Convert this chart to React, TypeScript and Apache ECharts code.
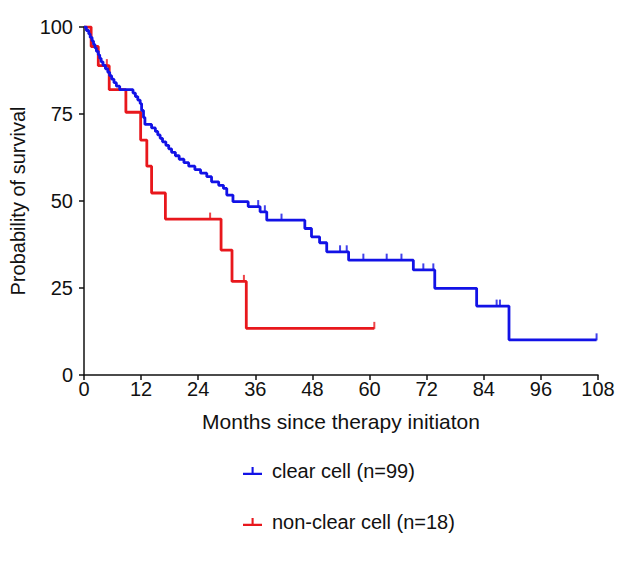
import React, { useEffect, useRef } from "react";
import * as echarts from "echarts";

// Kaplan–Meier step points: [month, survival %] (survival after event)
const clearCellSteps: [number, number][] = [
  [0, 100], [0.5, 99], [1.0, 98], [1.3, 97], [1.7, 96], [2.0, 95], [2.3, 94],
  [2.6, 93], [3.0, 92], [3.3, 91], [3.6, 90], [4.0, 89], [4.5, 88], [5.0, 87],
  [5.4, 86], [5.8, 85], [6.3, 84], [6.8, 83], [7.5, 82], [10.3, 81], [10.8, 80],
  [11.3, 79], [11.8, 78], [12.1, 76], [12.5, 74], [12.8, 72], [14.2, 71],
  [15.0, 70], [15.5, 69], [16.0, 68], [16.5, 67], [17.2, 66], [17.8, 65],
  [18.4, 64], [19.2, 63], [20.0, 62], [21.0, 61], [22.0, 60], [23.3, 59],
  [24.5, 58], [25.8, 57], [26.8, 55.5], [28.3, 54.5], [29.3, 53.6], [30.0, 51.7],
  [31.3, 49.8], [34.5, 48.4], [37.0, 46.9], [38.4, 44.5], [46.4, 42.1],
  [47.8, 39.7], [49.5, 38], [51.0, 35.4], [55.6, 33], [69.2, 30.2], [73.7, 24.9],
  [82.5, 19.8], [89.3, 10.1], [107.7, 10.1],
];
const clearCellCensored: [number, number][] = [
  [36.6, 48.4], [38.0, 46.9], [41.5, 44.5], [53.8, 35.4], [55.2, 35.4],
  [58.7, 33], [63.6, 33], [66.7, 33], [71.3, 30.2], [73.4, 30.2],
  [86.7, 19.8], [87.4, 19.8], [107.7, 10.1],
];

const nonClearSteps: [number, number][] = [
  [0, 100], [1.5, 94.4], [3.0, 88.9], [5.3, 82], [8.8, 75.5], [11.9, 67.5],
  [13.2, 60], [14.2, 52.3], [17.1, 44.8], [28.8, 35.9], [31.1, 26.9],
  [34.1, 13.4], [61, 13.4],
];
const nonClearCensored: [number, number][] = [
  [4.8, 88.9], [26.5, 44.8], [33.6, 26.9], [61, 13.4],
];

const xTicks = { min: 0, max: 108, interval: 12 };
const yTicks = { min: 0, max: 100, interval: 25 };

const BLUE = "#1212e6";
const RED = "#e8171c";
const FONT = "Liberation Sans, Arial, sans-serif";

const legendIcon =
  "path://M0,9 L20,9 L20,11.5 L0,11.5 Z M9,3 L11.2,3 L11.2,9 L9,9 Z";

export default function App() {
  const ref = useRef<HTMLDivElement>(null);
  useEffect(() => {
    if (!ref.current) return;
    const chart = echarts.init(ref.current, null, { renderer: "svg" });
    const tickSym = { symbol: "rect", symbolSize: [2, 7], symbolOffset: [0, -3] };
    chart.setOption({
      animation: false,
      textStyle: { fontFamily: FONT },
      grid: { left: 84, right: 32, top: 27, bottom: 188 },
      legend: {
        data: ["clear cell (n=99)", "non-clear cell (n=18)"],
        orient: "vertical",
        left: 238,
        top: 456,
        itemGap: 31,
        itemWidth: 19,
        itemHeight: 9,
        icon: legendIcon,
        textStyle: { fontSize: 20, color: "#111", fontFamily: FONT, padding: [0, 0, 0, 5] },
      },
      xAxis: {
        type: "value",
        ...xTicks,
        name: "Months since therapy initiaton",
        nameLocation: "middle",
        nameGap: 36,
        nameTextStyle: { fontSize: 21, color: "#111" },
        axisLine: { lineStyle: { color: "#111", width: 1.5 } },
        axisTick: { length: 5, lineStyle: { color: "#111", width: 1.5 } },
        axisLabel: { fontSize: 20, color: "#111", margin: 4 },
        splitLine: { show: false },
      },
      yAxis: {
        type: "value",
        ...yTicks,
        name: "Probability of survival",
        nameLocation: "middle",
        nameGap: 56,
        nameTextStyle: { fontSize: 20, color: "#111" },
        axisLine: { show: true, lineStyle: { color: "#111", width: 1.5 } },
        axisTick: { show: true, length: 5, lineStyle: { color: "#111", width: 1.5 } },
        axisLabel: { fontSize: 20, color: "#111", margin: 11 },
        splitLine: { show: false },
      },
      series: [
        {
          name: "non-clear cell (n=18)",
          type: "line",
          step: "end",
          data: nonClearSteps,
          showSymbol: false,
          symbol: "none",
          lineStyle: { color: RED, width: 2.8 },
          itemStyle: { color: RED },
        },
        {
          name: "non-clear cell censored",
          type: "scatter",
          data: nonClearCensored,
          ...tickSym,
          itemStyle: { color: RED },
        },
        {
          name: "clear cell (n=99)",
          type: "line",
          step: "end",
          data: clearCellSteps,
          showSymbol: false,
          symbol: "none",
          lineStyle: { color: BLUE, width: 2.8 },
          itemStyle: { color: BLUE },
        },
        {
          name: "clear cell censored",
          type: "scatter",
          data: clearCellCensored,
          ...tickSym,
          itemStyle: { color: BLUE },
        },
      ],
    });
    return () => chart.dispose();
  }, []);
  return <div ref={ref} style={{ width: 630, height: 563, margin: -8 }} />;
}
